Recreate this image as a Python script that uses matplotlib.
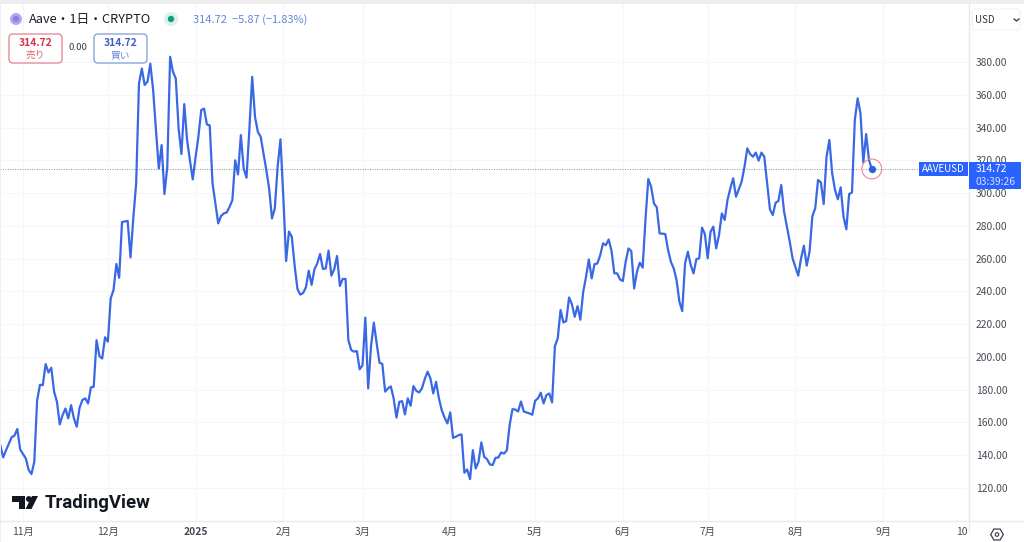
"""AAVE/USD daily line chart in the TradingView look."""

import matplotlib

matplotlib.use("Agg")
import matplotlib.pyplot as plt  # noqa: E402
import numpy as np  # noqa: E402
from matplotlib.patches import Circle, FancyBboxPatch, Polygon, Rectangle  # noqa: E402

plt.rcParams["font.family"] = ["Noto Sans CJK JP", "DejaVu Sans"]

# daily closes by month, starting 2024-10-24
oct_24 = [146, 138.7, 143, 147, 151, 152, 156, 143.5]
nov_24 = [140.7, 138, 131, 128.5, 136, 173.6, 183, 182.8, 195.6, 190.5,
          193.4, 178.8, 172.6, 158.8, 164.5, 168.5, 162.5, 170.6, 162.5, 157.4,
          169, 173.7, 174.7, 171.6, 181.4, 181.8, 210.2, 200.5, 199, 212]
dec_24 = [209.3, 235.7, 240.8, 256.7, 248.3, 282.3, 282.7, 283, 260.7, 285,
          305.9, 367, 376, 366, 368, 379, 362.9, 338.4, 315, 329.3,
          299.4, 316, 383.2, 374, 370, 339.5, 323.8, 354.3, 332.4, 320, 308.3]
jan_25 = [322, 334.4, 350.7, 351.5, 341.9, 341.3, 305.9, 293.7, 281.5, 286,
          287.6, 288.2, 291.6, 295.7, 320, 311.4, 335.4, 315, 309.4, 338.5,
          371, 346.6, 337.4, 334.4, 324.2, 314, 302.8, 284.5, 290.6, 316, 332.8]
feb_25 = [298, 258.5, 276.5, 273.4, 256, 241.5, 238, 239, 242.5, 252.6,
          244, 253.5, 257, 262.8, 253.7, 254, 264.9, 249.6, 253.5, 261.6,
          243.3, 247.6, 247.6, 210.3, 204.2, 203.2, 203.6, 192.4]
mar_25 = [194.9, 224, 180.8, 206.3, 220.9, 208.3, 196.5, 195.7, 178.8, 180.8,
          182, 174.7, 163, 172.6, 173, 164.9, 174.7, 170.2, 182.2, 179.3,
          178.3, 180.8, 186.5, 191, 186.9, 177.7, 184.8, 174.7, 167.5, 163, 159.4]
apr_25 = [166.1, 150.6, 151.3, 152.3, 152.7, 129.3, 131.3, 125.4, 143.1, 131.9,
          136, 147.8, 139, 137.6, 134.4, 134, 138.4, 138.6, 141.7, 141,
          142.9, 158.4, 168.1, 167.9, 166.7, 172.8, 166.7, 166.1, 165.5, 164.7]
may_25 = [173.2, 174.7, 178.1, 171.6, 176.7, 177.7, 172.2, 206.6, 211.3, 228.6,
          221, 221.9, 236.3, 232.2, 224.5, 231, 222.7, 239.7, 248.9, 259.5,
          247.9, 256.6, 257, 262, 269.3, 268.2, 271.7, 264.8, 251, 251, 247.3]
jun_25 = [246.3, 258, 266.2, 264.6, 241.8, 252, 257.5, 254.5, 283.6, 308.6,
          303.9, 293.7, 291.3, 275.4, 275.2, 275, 265.2, 258, 254, 246.9,
          233.7, 228, 257.1, 264.2, 256.1, 251, 259.7, 260.2, 278.9, 275]
jul_25 = [260.2, 276.4, 279.5, 266.3, 274.4, 287.6, 283.6, 295.8, 302.9, 309,
          297.8, 302.3, 307, 316, 327.3, 323.8, 322.2, 324.7, 319.8, 324.7,
          322.2, 305.9, 290, 286.6, 294.1, 295.2, 304.9, 288.6, 279.5, 270.3, 260.2]
aug_25 = [255, 249.6, 260.2, 267.9, 255.7, 264.2, 286, 290.7, 308, 306.5,
          293.3, 322.2, 332.4, 312, 301.9, 296.2, 303.5, 285.6, 277.9, 299.4,
          300.4, 344.6, 357.8, 348.7, 318.7, 336, 320.2, 314.72]

closes = oct_24 + nov_24 + dec_24 + jan_25 + feb_25 + mar_25 + apr_25 + may_25 + jun_25 + jul_25 + aug_25
dates = np.datetime64("2024-10-24") + np.arange(len(closes))

month_ticks = ["2024-11-01", "2024-12-01", "2025-01-01", "2025-02-01", "2025-03-01", "2025-04-01",
               "2025-05-01", "2025-06-01", "2025-07-01", "2025-08-01", "2025-09-01", "2025-10-01"]
month_labels = ["11月", "12月", "2025", "2月", "3月", "4月", "5月", "6月", "7月", "8月", "9月", "10"]
price_ticks = [120, 140, 160, 180, 200, 220, 240, 260, 280, 300, 320, 340, 360, 380]

W, H = 1024, 542
BLUE = "#3a68e4"
TICK_GREY = "#474a55"

fig = plt.figure(figsize=(W / 100, H / 100), dpi=100, facecolor="white")
ax = fig.add_axes([0, (H - 521) / H, 968 / W, (521 - 4) / H])

ax.plot(dates, closes, color=BLUE, lw=1.6, solid_joinstyle="round", zorder=3)
ax.axhline(closes[-1], color="#8a8e99", lw=0.7, ls=(0, (1, 1.5)), zorder=2)
ax.scatter(dates[-1:], closes[-1:], s=18, color="#2f5fe0", zorder=4)
ax.scatter(dates[-1:], closes[-1:], s=205, facecolor="none", edgecolor="#e58a92", lw=0.8, zorder=4)

ax.set_xlim(np.datetime64("2024-10-23T21:00"), np.datetime64("2025-10-01"))
ax.set_ylim(99.85, 415.4)

ax.set_xticks(np.array(month_ticks, dtype="datetime64[D]"))
ax.set_xticklabels(month_labels, fontsize=7.4, color=TICK_GREY)
ax.get_xticklabels()[2].set_fontweight("bold")
ax.get_xticklabels()[-1].set_ha("right")
ax.yaxis.tick_right()
ax.set_yticks(price_ticks)
ax.set_yticklabels([f"{p:.2f}" for p in price_ticks], fontsize=7.4, color=TICK_GREY)
ax.tick_params(axis="both", length=0)
ax.tick_params(axis="x", pad=4.5)
ax.tick_params(axis="y", pad=5.8)
ax.grid(True, color="#f5f6f9", lw=0.8)
ax.set_axisbelow(True)
for side in ax.spines.values():
    side.set_visible(False)

# chrome drawn in pixel coordinates on a transparent overlay
ui = fig.add_axes([0, 0, 1, 1], facecolor="none")
ui.set_xlim(0, W)
ui.set_ylim(H, 0)
ui.axis("off")

ui.add_patch(Rectangle((0, 0), W, 4, color="#eeeeef", lw=0))
ui.add_patch(Rectangle((0, 0), 1.2, H, color="#eeeeef", lw=0))
ui.plot([0, W], [521, 521], color="#e9eaee", lw=1)
ui.plot([968.5, 968.5], [4, 531], color="#e9eaee", lw=1)

# legend row
ui.add_patch(Circle((16, 19), 6, color="#b3a6f2", lw=0))
ui.add_patch(Circle((16, 19), 3.2, color="#8d7fe6", lw=0))
ui.text(29, 19.5, "Aave・1日・CRYPTO", fontsize=9.2, color="#1b1e29", va="center", ha="left")
ui.add_patch(Circle((171, 19), 7, color="#dcf1ec", lw=0))
ui.add_patch(Circle((171, 19), 3.2, color="#129c80", lw=0))
ui.text(193, 19.5, "314.72  −5.87 (−1.83%)", fontsize=8, color="#5f86dc", va="center", ha="left")

# sell / buy boxes
for x0, edge, price_col, word in [(9, "#e0808a", "#d2353f", "売り"), (94, "#7d9bd6", "#3a5fc8", "買い")]:
    ui.add_patch(FancyBboxPatch((x0, 34), 53, 29, boxstyle="round,pad=0,rounding_size=4",
                                facecolor="white", edgecolor=edge, lw=0.9, zorder=5))
    ui.text(x0 + 26.5, 42.5, "314.72", fontsize=7.4, fontweight="bold", color=price_col,
            ha="center", va="center", zorder=6)
    ui.text(x0 + 26.5, 55, word, fontsize=7, color=price_col, alpha=0.75, ha="center", va="center", zorder=6)
ui.text(78, 48, "0.00", fontsize=6.9, color="#3c3f4a", ha="center", va="center")

# currency selector
ui.add_patch(FancyBboxPatch((972, 9), 48, 21, boxstyle="round,pad=0,rounding_size=3",
                            facecolor="white", edgecolor="#f0f1f4", lw=0.8))
ui.text(975, 20, "USD", fontsize=7, color="#2f323c", ha="left", va="center")
ui.plot([1014, 1016.5, 1019], [19, 21, 19], color="#2f323c", lw=0.9)

# last price labels
ui.add_patch(Rectangle((919, 162), 49, 14, color="#2962ff", lw=0, zorder=5))
ui.add_patch(Rectangle((969, 162), 52, 27, color="#2962ff", lw=0, zorder=5))
ui.text(943.5, 169.2, "AAVEUSD", fontsize=7, color="white", ha="center", va="center", zorder=6)
ui.text(976, 169.2, "314.72", fontsize=7.4, color="white", ha="left", va="center", zorder=6)
ui.text(976, 182, "03:39:26", fontsize=7.4, color="#d5e0ff", ha="left", va="center", zorder=6)

# TradingView mark
ui.add_patch(Polygon([(12, 496), (25, 496), (25, 509), (18.5, 509), (18.5, 502), (12, 502)], color="#131722", lw=0))
ui.add_patch(Circle((28.8, 499), 2.9, color="#131722", lw=0))
ui.add_patch(Polygon([(38, 496), (31.5, 509), (25.5, 509), (32, 496)], color="#131722", lw=0))
ui.text(44.5, 503, "TradingView", fontsize=13.4, fontweight="bold", color="#131722", ha="left", va="center",
        family=["Roboto", "DejaVu Sans"])

# settings gear
ang = np.deg2rad(np.arange(0, 360, 60))
ui.add_patch(Polygon(np.column_stack([997 + 6.3 * np.cos(ang), 534.5 + 6.3 * np.sin(ang)]),
                     facecolor="none", edgecolor="#3c3f4a", lw=0.9))
ui.add_patch(Circle((997, 534.5), 1.8, facecolor="none", edgecolor="#3c3f4a", lw=0.8))

fig.savefig("out.png", dpi=100)
